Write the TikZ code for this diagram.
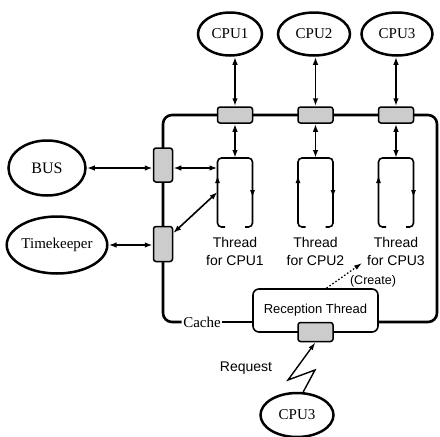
\documentclass[tikz,border=0pt]{standalone}
\usepackage{fontspec}
\setmainfont{Liberation Serif}
\setsansfont{Liberation Sans}
\usepackage{tikz}
\usetikzlibrary{shapes.geometric, positioning, arrows.meta, calc}

\begin{document}
\begin{tikzpicture}[x=1pt, y=-1pt,
  proc/.style={ellipse, draw, line width=2.5pt, inner sep=0pt,
             font=\fontsize{15}{17}\selectfont},
  gate/.style={rectangle, draw, line width=1.5pt, rounded corners=2.5pt,
             fill=gray!40, inner sep=0pt},
  dbl/.style={{Latex[length=8pt,width=5.5pt]}-{Latex[length=8pt,width=5.5pt]},
             line width=1.6pt},
  arr/.style={-{Latex[length=8pt,width=5pt]}, line width=1.6pt},
  loopline/.style={line width=1.6pt, rounded corners=4pt},
  cacheline/.style={line width=2.6pt, rounded corners=9pt},
  lbl/.style={font=\sffamily\fontsize{14}{18}\selectfont, align=center, inner sep=0pt},
]
\useasboundingbox (0,0) rectangle (440,437);

% ---- cache ring ----
\node[font=\fontsize{15}{17}\selectfont, inner sep=1.5pt] (cache) at (202,322) {Cache};
\node[rectangle, draw, line width=1.6pt, rounded corners=6pt, fill=white,
      minimum width=125pt, minimum height=43pt, inner sep=0pt,
      font=\sffamily\fontsize{13}{15}\selectfont] (recv) at (315.5,310.5) {Reception Thread};
\draw[cacheline] (recv.east |- cache) -- (437,322) -- (437,115) -- (163,115)
  -- (163,322) -- (cache.west);
\draw[cacheline] (cache.east) -- (recv.west |- cache);

% ---- CPUs and their threads ----
\foreach \i/\x/\cx/\w in {1/235/230/64, 2/315.5/314/72, 3/396/397/71} {
  \node[proc, minimum width=\w pt, minimum height=43pt] (cpu\i) at (\cx,34) {CPU\i};
  \node[gate, minimum width=35pt, minimum height=16pt] (gw\i) at (\x,115) {};
  \coordinate (th\i) at (\x,158);
  \draw[loopline] (\x-10,227) -- (\x-17.5,227) -- (\x-17.5,158) -- (\x+17.5,158)
    -- (\x+17.5,227) -- (\x+10,227);
  \draw[arr] (\x-17.5,200) -- (\x-17.5,175);
  \draw[arr] (\x+17.5,180) -- (\x+17.5,198);
  \draw[dbl] (gw\i.north |- cpu\i.south) -- (gw\i.north);
  \draw[dbl] (gw\i.south) -- (th\i);
  \node[lbl] (tl\i) at (\x,251) {Thread\\for CPU\i};
}

% ---- BUS and Timekeeper ----
\node[proc, minimum width=77pt, minimum height=55pt, font=\fontsize{16}{18}\selectfont] (bus) at (47,168) {BUS};
\node[proc, minimum width=90pt, minimum height=57pt] (time) at (57,245) {Timekeeper};
\node[gate, minimum width=19pt, minimum height=34pt] (gwbus) at (163,165) {};
\node[gate, minimum width=19pt, minimum height=35pt] (gwtime) at (163,244) {};
\coordinate (busin) at (217.5,168);
\coordinate (timein) at (217.5,192);
\draw[dbl] (bus.east) -- (gwbus.west |- bus.east);
\draw[dbl] (gwbus.east |- bus.east) -- (busin);
\draw[dbl] (time.east) -- (gwtime.west |- time.east);
\draw[dbl] ($(gwtime.north east)!0.2!(gwtime.south east)$) -- (timein);

% ---- reception side ----
\node[gate, minimum width=35pt, minimum height=19pt] (gwrecv) at (315.5,332) {};
\coordinate (crt) at (362,263);
\draw[arr, dotted, line width=1.2pt] ([xshift=11pt]recv.north) -- (crt);
\node[lbl, font=\sffamily\fontsize{12.5}{14}\selectfont] (crlbl) at (373,281) {(Create)};

\node[lbl] (reqlbl) at (246,368) {Request};
\node[proc, minimum width=73pt, minimum height=44pt] (cpu4) at (297,415) {CPU3};
\coordinate (zz1) at (315,370);
\coordinate (zz2) at (288,380);
\draw[arr, line width=1.4pt] (cpu4.75) -- (zz1) -- (zz2) -- (gwrecv.south);

\end{tikzpicture}
\end{document}
